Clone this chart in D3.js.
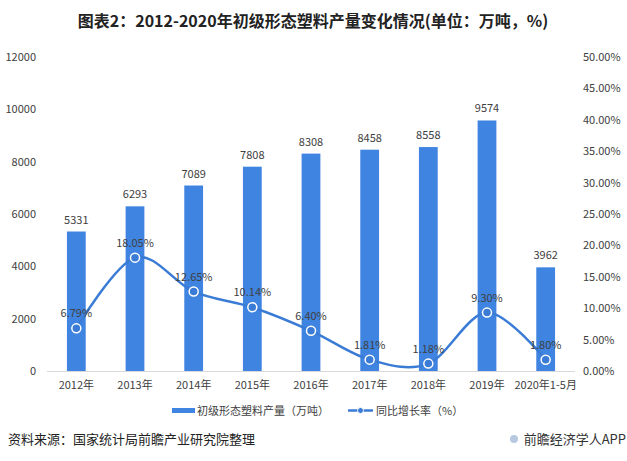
<!DOCTYPE html>
<html><head><meta charset="utf-8">
<script src="https://cdn.jsdelivr.net/npm/d3@7"></script>
<style>body{margin:0;background:#fff}svg{display:block}</style>
</head><body>
<script>
const categories = ["2012年","2013年","2014年","2015年","2016年","2017年","2018年","2019年","2020年1-5月"];
const production = [5331,6293,7089,7808,8308,8458,8558,9574,3962];
const growth = [6.79,18.05,12.65,10.14,6.40,1.81,1.18,9.30,1.80];
const leftTicks = [0,2000,4000,6000,8000,10000,12000];
const rightTicks = [0,5,10,15,20,25,30,35,40,45,50];

const W=627,H=461;
const font = "'Microsoft YaHei','Noto Sans CJK SC',sans-serif";
const svg = d3.select("body").append("svg").attr("width",W).attr("height",H);
const barColor="#3f84e0", lineColor="#3a7bd5", textColor="#404040";

svg.append("text").attr("x",313).attr("y",27).attr("text-anchor","middle")
  .attr("font-family",font).attr("font-weight","bold").attr("font-size",16).attr("fill","#222")
  .text("图表2：2012-2020年初级形态塑料产量变化情况(单位：万吨，%)");

const x = d3.scaleBand().domain(categories).range([47,575]).paddingInner(0.68).paddingOuter(0.34);
const yL = d3.scaleLinear().domain([0,12000]).range([371,57]);
const yR = d3.scaleLinear().domain([0,50]).range([371,57]);

const gL = svg.append("g").attr("transform","translate(40,0)")
  .call(d3.axisLeft(yL).tickValues(leftTicks).tickSize(0).tickPadding(4).tickFormat(d3.format("d")));
gL.select(".domain").remove();
gL.selectAll("text").attr("font-family",font).attr("font-size",11).attr("fill",textColor);

const gR = svg.append("g").attr("transform","translate(580,0)")
  .call(d3.axisRight(yR).tickValues(rightTicks).tickSize(0).tickPadding(3).tickFormat(d=>d.toFixed(2)+"%"));
gR.select(".domain").remove();
gR.selectAll("text").attr("font-family",font).attr("font-size",11).attr("fill",textColor);

svg.append("line").attr("x1",47).attr("x2",575).attr("y1",371.5).attr("y2",371.5).attr("stroke","#d9d9d9");

svg.selectAll("rect.bar").data(production).join("rect").attr("class","bar")
  .attr("x",(d,i)=>x(categories[i])).attr("width",x.bandwidth())
  .attr("y",d=>yL(d)).attr("height",d=>yL(0)-yL(d)).attr("fill",barColor);

svg.selectAll("text.bl").data(production).join("text").attr("class","bl")
  .attr("x",(d,i)=>x(categories[i])+x.bandwidth()/2).attr("y",d=>yL(d)-8)
  .attr("text-anchor","middle").attr("font-family",font).attr("font-size",11).attr("fill",textColor)
  .text(d=>d);

const gX = svg.append("g").attr("transform","translate(0,371)")
  .call(d3.axisBottom(x).tickSize(0).tickPadding(10));
gX.select(".domain").remove();
gX.selectAll("text").attr("font-family",font).attr("font-size",11).attr("fill",textColor);

const cx = (i)=>x(categories[i])+x.bandwidth()/2;
const line = d3.line().x((d,i)=>cx(i)).y(d=>yR(d)).curve(d3.curveCardinal.tension(0));
svg.append("path").datum(growth).attr("d",line).attr("fill","none").attr("stroke",lineColor).attr("stroke-width",2.5);
svg.selectAll("circle.m").data(growth).join("circle").attr("class","m")
  .attr("cx",(d,i)=>cx(i)).attr("cy",d=>yR(d)).attr("r",4.5)
  .attr("fill",lineColor).attr("stroke","#fff").attr("stroke-width",1.5);
svg.selectAll("text.ll").data(growth).join("text").attr("class","ll")
  .attr("x",(d,i)=>cx(i)).attr("y",d=>yR(d)-11)
  .attr("text-anchor","middle").attr("font-family",font).attr("font-size",11).attr("fill",textColor)
  .text(d=>d.toFixed(2)+"%");

svg.append("rect").attr("x",172).attr("y",408).attr("width",23).attr("height",5).attr("fill",barColor);
svg.append("text").attr("x",197).attr("y",415).attr("font-family",font).attr("font-size",11).attr("fill",textColor)
  .text("初级形态塑料产量（万吨）");
svg.append("line").attr("x1",348).attr("x2",373).attr("y1",410.5).attr("y2",410.5).attr("stroke",lineColor).attr("stroke-width",2.5);
svg.append("circle").attr("cx",360.5).attr("cy",410.5).attr("r",3).attr("fill",lineColor).attr("stroke","#fff").attr("stroke-width",1);
svg.append("text").attr("x",376).attr("y",415).attr("font-family",font).attr("font-size",11).attr("fill",textColor)
  .text("同比增长率（%）");

svg.append("text").attr("x",8).attr("y",444).attr("font-family",font).attr("font-size",13).attr("fill","#222")
  .text("资料来源：国家统计局前瞻产业研究院整理");
svg.append("circle").attr("cx",514).attr("cy",439).attr("r",4).attr("fill","#b8c8e0");
svg.append("text").attr("x",626).attr("y",444).attr("text-anchor","end").attr("font-family",font).attr("font-size",13).attr("fill","#333")
  .text("前瞻经济学人APP");
</script>
</body></html>
